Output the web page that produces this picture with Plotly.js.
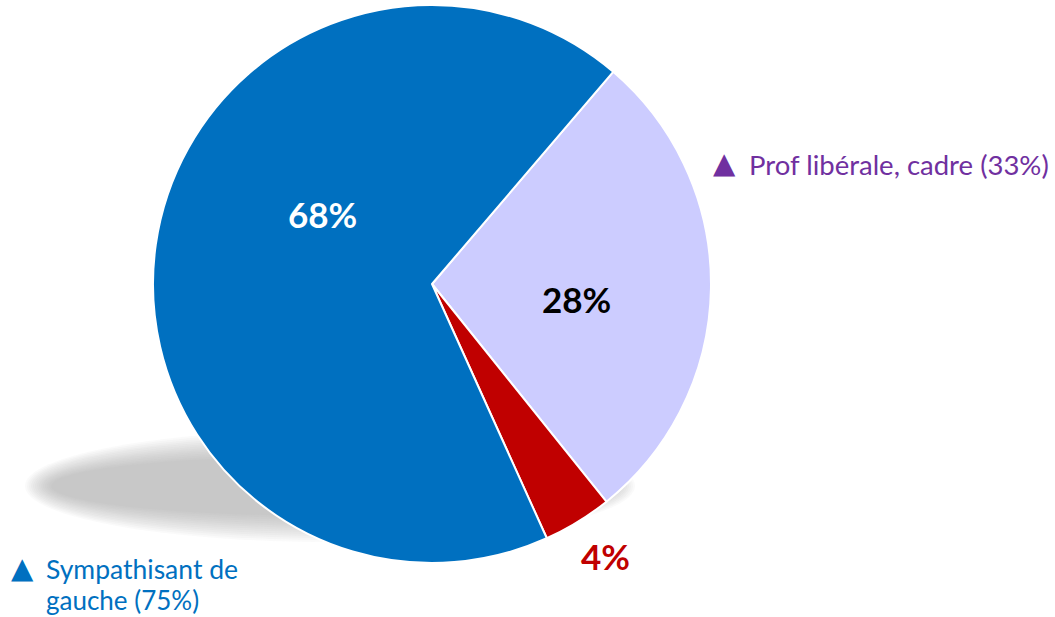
<!DOCTYPE html>
<html>
<head>
<meta charset="utf-8">
<script src="https://cdn.plot.ly/plotly-3.0.1.min.js"></script>
<style>html,body{margin:0;padding:0;background:#fff;}#chart{width:1055px;height:617px;}</style>
</head>
<body>
<div id="chart"></div>
<script>
var categories = ["Prof libérale, cadre", "Autre", "Sympathisant de gauche"];
var values = [28, 4, 68];
var sliceColors = ["#CCCCFF", "#C00000", "#0070C0"];
var labelColors = ["#000000", "#C00000", "#FFFFFF"];
var legendLines = ["Prof libérale, cadre (33%)", "Sympathisant de", "gauche (75%)"];
var legendColors = ["#7030A0", "#0070C0"];

var W = 1055, H = 617;
var cx = 432, cy = 284, R = 279;

var trace = {
  type: "pie",
  labels: categories,
  values: values,
  sort: false,
  direction: "clockwise",
  rotation: 40.5,
  marker: {colors: sliceColors, line: {color: "#ffffff", width: 2}},
  textinfo: "none",
  hoverinfo: "none",
  showlegend: false,
  domain: {x: [(cx - R) / W, (cx + R) / W], y: [1 - (cy + R) / H, 1 - (cy - R) / H]}
};

// soft shadow (stacked ellipses)
var shapes = [];
var sx = 330, sy = 486, srx = 305, sry = 56;
var N = 14;
for (var i = 0; i < N; i++) {
  var d = i * 2;
  shapes.push({
    type: "circle", xref: "paper", yref: "paper", layer: "below",
    x0: (sx - srx + d) / W, x1: (sx + srx - d) / W,
    y0: 1 - (sy + sry - d) / H, y1: 1 - (sy - sry + d) / H,
    fillcolor: "#9c9c9c", opacity: 0.05, line: {width: 0}
  });
}

var font = "Lato, 'DejaVu Sans', sans-serif";
var tri = "'DejaVu Sans', sans-serif";
var annotations = [
  {x: 322 / W, y: 1 - 214 / H, text: values[2] + "%", font: {size: 35, color: labelColors[2], family: font, weight: "bold"}},
  {x: 576 / W, y: 1 - 299 / H, text: values[0] + "%", font: {size: 35, color: labelColors[0], family: font, weight: "bold"}},
  {x: 605 / W, y: 1 - 556 / H, text: values[1] + "%", font: {size: 35, color: labelColors[1], family: font, weight: "bold"}},
  {x: 724 / W, y: 1 - 163 / H, text: "▲", font: {size: 29, color: legendColors[0], family: tri}},
  {x: 747 / W, y: 1 - 164 / H, xanchor: "left", text: legendLines[0], font: {size: 27.5, color: legendColors[0], family: font}},
  {x: 22 / W, y: 1 - 568 / H, text: "▲", font: {size: 29, color: legendColors[1], family: tri}},
  {x: 44 / W, y: 1 - 569 / H, xanchor: "left", text: legendLines[1], font: {size: 26.5, color: legendColors[1], family: font}},
  {x: 44 / W, y: 1 - 600 / H, xanchor: "left", text: legendLines[2], font: {size: 26, color: legendColors[1], family: font}}
];
annotations.forEach(function (a) {
  a.xref = "paper"; a.yref = "paper"; a.showarrow = false;
  if (!a.xanchor) a.xanchor = "center";
  a.yanchor = "middle";
});

var layout = {
  width: W, height: H,
  margin: {l: 0, r: 0, t: 0, b: 0},
  paper_bgcolor: "#ffffff",
  shapes: shapes,
  annotations: annotations
};

Plotly.newPlot("chart", [trace], layout, {displayModeBar: false, staticPlot: true});
</script>
</body>
</html>
